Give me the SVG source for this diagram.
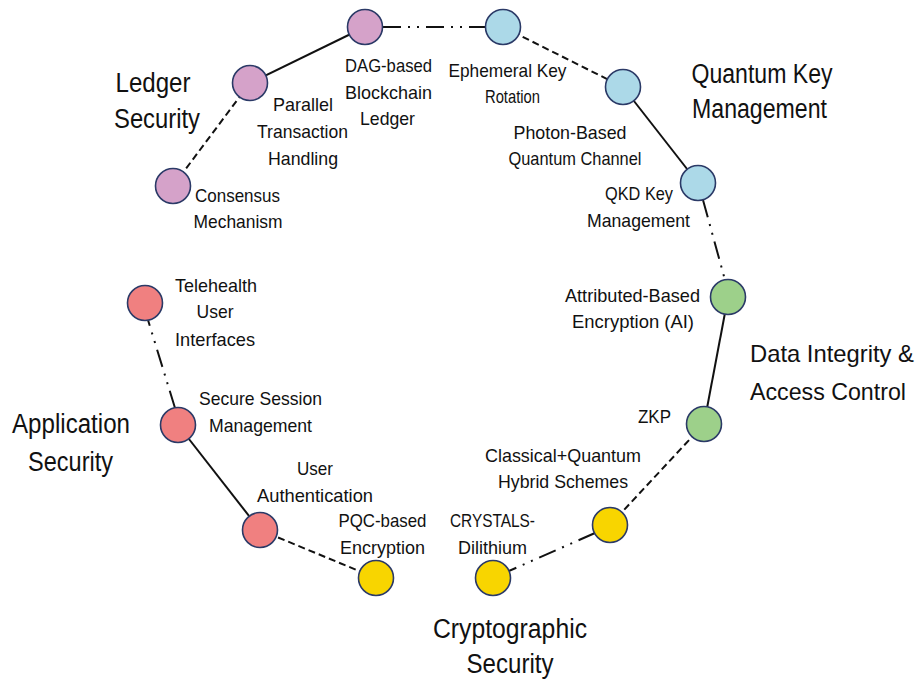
<svg xmlns="http://www.w3.org/2000/svg" width="921" height="679" viewBox="0 0 921 679">
<style>
  .bg { fill: #ffffff; }
  .node { stroke: #2b3a67; stroke-width: 1.6; }
  .ledger { fill: #d5a2c9; }
  .qkm { fill: #acd9e8; }
  .data { fill: #9dd08a; }
  .app { fill: #f08080; }
  .crypto { fill: #f8d500; }
  .lbl { font-family: "Liberation Sans", Arial, sans-serif; font-size: 19px; fill: #111111; text-anchor: middle; }
  .ttl { font-family: "Liberation Sans", Arial, sans-serif; font-size: 27px; fill: #111111; text-anchor: middle; }
  .ttl-sm { font-size: 24px; }
  .conn { stroke: #111111; stroke-width: 2; fill: none; }
  .solid { }
  .dash { stroke-dasharray: 7 4; }
  .dashdot { stroke-dasharray: 18 7 2 7 2 7; }
</style>
<rect class="bg" x="0" y="0" width="921" height="679"/>

<g id="connectors">
  <line class="conn dash" x1="173" y1="186" x2="250" y2="83"/>
  <line class="conn solid" x1="250" y1="83" x2="365" y2="27"/>
  <line class="conn dashdot" x1="383" y1="27" x2="485" y2="27"/>
  <line class="conn dash" x1="503" y1="27" x2="623" y2="87"/>
  <line class="conn solid" x1="623" y1="87" x2="698" y2="183"/>
  <line class="conn dashdot" x1="703" y1="200" x2="725" y2="280"/>
  <line class="conn solid" x1="728" y1="297" x2="704" y2="424"/>
  <line class="conn dash" x1="704" y1="424" x2="610" y2="525"/>
  <line class="conn dashdot" x1="595" y1="533" x2="493" y2="578"/>
  <line class="conn dash" x1="376" y1="578" x2="260" y2="530"/>
  <line class="conn solid" x1="260" y1="530" x2="178" y2="425"/>
  <line class="conn dashdot" x1="175" y1="408" x2="148" y2="320"/>
</g>

<!-- Ledger Security -->
<g id="ledger-security">
  <text class="ttl" x="153" y="92" textLength="75" lengthAdjust="spacingAndGlyphs">Ledger</text>
  <text class="ttl" x="157" y="128" textLength="86" lengthAdjust="spacingAndGlyphs">Security</text>
</g>
<g id="node-dag">
  <circle class="node ledger" cx="365" cy="27" r="17.5"/>
  <text class="lbl" x="388.5" y="72" textLength="87" lengthAdjust="spacingAndGlyphs">DAG-based</text>
  <text class="lbl" x="388.5" y="99" textLength="87" lengthAdjust="spacingAndGlyphs">Blockchain</text>
  <text class="lbl" x="387.5" y="125" textLength="55" lengthAdjust="spacingAndGlyphs">Ledger</text>
</g>
<g id="node-parallel">
  <circle class="node ledger" cx="250" cy="83" r="17.5"/>
  <text class="lbl" x="303" y="111" textLength="60" lengthAdjust="spacingAndGlyphs">Parallel</text>
  <text class="lbl" x="302.5" y="138" textLength="91" lengthAdjust="spacingAndGlyphs">Transaction</text>
  <text class="lbl" x="303" y="165" textLength="70" lengthAdjust="spacingAndGlyphs">Handling</text>
</g>
<g id="node-consensus">
  <circle class="node ledger" cx="173" cy="186" r="17.5"/>
  <text class="lbl" x="237.5" y="202" textLength="85" lengthAdjust="spacingAndGlyphs">Consensus</text>
  <text class="lbl" x="238" y="228" textLength="89" lengthAdjust="spacingAndGlyphs">Mechanism</text>
</g>

<!-- Quantum Key Management -->
<g id="quantum-key-management">
  <text class="ttl" x="762" y="83" textLength="141" lengthAdjust="spacingAndGlyphs">Quantum Key</text>
  <text class="ttl" x="759.5" y="118" textLength="135" lengthAdjust="spacingAndGlyphs">Management</text>
</g>
<g id="node-ephemeral">
  <circle class="node qkm" cx="503" cy="27" r="17.5"/>
  <text class="lbl" x="507.5" y="77" textLength="118" lengthAdjust="spacingAndGlyphs">Ephemeral Key</text>
  <text class="lbl" x="512.5" y="103" textLength="55" lengthAdjust="spacingAndGlyphs">Rotation</text>
</g>
<g id="node-photon">
  <circle class="node qkm" cx="623" cy="87" r="17.5"/>
  <text class="lbl" x="570" y="139" textLength="113" lengthAdjust="spacingAndGlyphs">Photon-Based</text>
  <text class="lbl" x="575" y="165" textLength="133" lengthAdjust="spacingAndGlyphs">Quantum Channel</text>
</g>
<g id="node-qkd">
  <circle class="node qkm" cx="698" cy="183" r="17.5"/>
  <text class="lbl" x="639" y="200" textLength="68" lengthAdjust="spacingAndGlyphs">QKD Key</text>
  <text class="lbl" x="638.5" y="227" textLength="103" lengthAdjust="spacingAndGlyphs">Management</text>
</g>

<!-- Data Integrity & Access Control -->
<g id="data-integrity-access-control">
  <text class="ttl ttl-sm" x="832" y="362" textLength="164" lengthAdjust="spacingAndGlyphs">Data Integrity &amp;</text>
  <text class="ttl ttl-sm" x="828" y="400" textLength="156" lengthAdjust="spacingAndGlyphs">Access Control</text>
</g>
<g id="node-abe">
  <circle class="node data" cx="728" cy="297" r="17.5"/>
  <text class="lbl" x="632.5" y="302" textLength="135" lengthAdjust="spacingAndGlyphs">Attributed-Based</text>
  <text class="lbl" x="633" y="328" textLength="122" lengthAdjust="spacingAndGlyphs">Encryption (AI)</text>
</g>
<g id="node-zkp">
  <circle class="node data" cx="704" cy="424" r="17.5"/>
  <text class="lbl" x="654.5" y="423" textLength="33" lengthAdjust="spacingAndGlyphs">ZKP</text>
</g>

<!-- Application Security -->
<g id="application-security">
  <text class="ttl" x="71" y="433" textLength="118" lengthAdjust="spacingAndGlyphs">Application</text>
  <text class="ttl" x="70.5" y="471" textLength="85" lengthAdjust="spacingAndGlyphs">Security</text>
</g>
<g id="node-telehealth">
  <circle class="node app" cx="145" cy="303" r="17.5"/>
  <text class="lbl" x="216" y="292" textLength="82" lengthAdjust="spacingAndGlyphs">Telehealth</text>
  <text class="lbl" x="215" y="318" textLength="37" lengthAdjust="spacingAndGlyphs">User</text>
  <text class="lbl" x="215" y="346" textLength="80" lengthAdjust="spacingAndGlyphs">Interfaces</text>
</g>
<g id="node-session">
  <circle class="node app" cx="178" cy="425" r="17.5"/>
  <text class="lbl" x="260.5" y="405" textLength="123" lengthAdjust="spacingAndGlyphs">Secure Session</text>
  <text class="lbl" x="260.5" y="432" textLength="103" lengthAdjust="spacingAndGlyphs">Management</text>
</g>
<g id="node-auth">
  <circle class="node app" cx="260" cy="530" r="17.5"/>
  <text class="lbl" x="315" y="475" textLength="36" lengthAdjust="spacingAndGlyphs">User</text>
  <text class="lbl" x="315" y="502" textLength="116" lengthAdjust="spacingAndGlyphs">Authentication</text>
</g>

<!-- Cryptographic Security -->
<g id="cryptographic-security">
  <text class="ttl" x="510" y="638" textLength="154" lengthAdjust="spacingAndGlyphs">Cryptographic</text>
  <text class="ttl" x="510" y="673" textLength="87" lengthAdjust="spacingAndGlyphs">Security</text>
</g>
<g id="node-pqc">
  <circle class="node crypto" cx="376" cy="578" r="17.5"/>
  <text class="lbl" x="382.5" y="527" textLength="88" lengthAdjust="spacingAndGlyphs">PQC-based</text>
  <text class="lbl" x="382.5" y="554" textLength="85" lengthAdjust="spacingAndGlyphs">Encryption</text>
</g>
<g id="node-crystals">
  <circle class="node crypto" cx="493" cy="578" r="17.5"/>
  <text class="lbl" x="492.5" y="527" textLength="85" lengthAdjust="spacingAndGlyphs">CRYSTALS-</text>
  <text class="lbl" x="492.5" y="554" textLength="69" lengthAdjust="spacingAndGlyphs">Dilithium</text>
</g>
<g id="node-hybrid">
  <circle class="node crypto" cx="610" cy="525" r="17.5"/>
  <text class="lbl" x="563" y="462" textLength="156" lengthAdjust="spacingAndGlyphs">Classical+Quantum</text>
  <text class="lbl" x="563" y="488" textLength="130" lengthAdjust="spacingAndGlyphs">Hybrid Schemes</text>
</g>
</svg>
